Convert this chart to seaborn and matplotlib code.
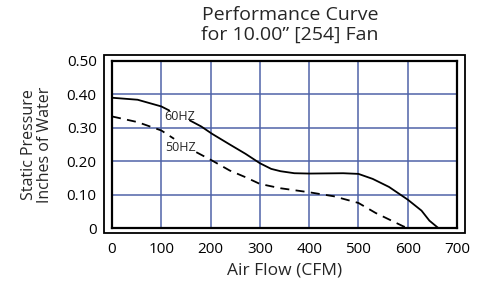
import numpy as np
import pandas as pd
import matplotlib
matplotlib.use("Agg")
import matplotlib.pyplot as plt
from matplotlib.patches import Rectangle
import seaborn as sns

# curve data (CFM, inches of water); seg = piece of the curve
# (the curves are broken where the 60HZ / 50HZ labels sit)
flow_60 = [0, 52, 100, 116, 158, 181, 203, 239, 271, 300, 323, 342, 370, 400, 469, 500,
           529, 562, 600, 628, 644, 662]
pres_60 = [0.390, 0.384, 0.364, 0.352, 0.322, 0.304, 0.282, 0.250, 0.222, 0.194, 0.177, 0.170,
           0.164, 0.163, 0.164, 0.162, 0.147, 0.123, 0.085, 0.052, 0.022, 0.0]
seg_60 = [0, 0, 0, 0, 1, 1, 1, 1, 1, 1, 1, 1, 1, 1, 1, 1, 1, 1, 1, 1, 1, 1]
flow_50 = [0, 52, 100, 126, 171, 203, 239, 271, 300, 342, 400, 450, 500, 535, 591, 600]
pres_50 = [0.334, 0.317, 0.292, 0.267, 0.227, 0.202, 0.172, 0.152, 0.132, 0.119, 0.107, 0.095,
           0.075, 0.045, 0.005, 0.0]
seg_50 = [0, 0, 0, 0, 1, 1, 1, 1, 1, 1, 1, 1, 1, 1, 1, 1]

x_ticks = [0, 100, 200, 300, 400, 500, 600, 700]
y_ticks = [0, 0.10, 0.20, 0.30, 0.40, 0.50]
y_tick_labels = ['0', '0.10', '0.20', '0.30', '0.40', '0.50']

sns.set_theme(style='white')
plt.rcParams['font.family'] = ['Open Sans', 'DejaVu Sans']

df60 = pd.DataFrame({'flow': flow_60, 'pres': pres_60, 'seg': seg_60})
df50 = pd.DataFrame({'flow': flow_50, 'pres': pres_50, 'seg': seg_50})

fig = plt.figure(figsize=(4.85, 2.85), dpi=100)
ax = fig.add_axes([112 / 485, 57 / 285, 345 / 485, 167 / 285])

grid_c = '#4F63A8'
for xv in x_ticks[1:-1]:
    ax.axvline(xv, color=grid_c, lw=1.1, zorder=1)
for yv in y_ticks[1:-1]:
    ax.axhline(yv, color=grid_c, lw=1.1, zorder=1)

sns.lineplot(data=df60, x='flow', y='pres', units='seg', estimator=None, color='black', lw=1.3,
             sort=False, ax=ax, zorder=3)
sns.lineplot(data=df50, x='flow', y='pres', units='seg', estimator=None, color='black', lw=1.3,
             sort=False, ax=ax, zorder=3, linestyle=(0, (5, 3.5)))

ax.text(137, 0.334, '60HZ', fontsize=9, ha='center', va='center', zorder=4)
ax.text(138, 0.240, '50HZ', fontsize=9, ha='center', va='center', zorder=4)

ax.set_xlim(0, 700)
ax.set_ylim(0, 0.5)
ax.set_xticks(x_ticks)
ax.set_yticks(y_ticks)
ax.set_yticklabels(y_tick_labels)
ax.tick_params(axis='both', length=0, labelsize=11, colors='black')
ax.tick_params(axis='x', pad=10)
ax.tick_params(axis='y', pad=11)
ax.grid(False)
for s in ax.spines.values():
    s.set_color('black')
    s.set_linewidth(1.6)

# outer frame around the plot area
ax.add_patch(Rectangle((-8 / 345, -5 / 167), 1 + 16 / 345, 1 + 11 / 167, transform=ax.transAxes,
                       fill=False, edgecolor='black', lw=1.3, clip_on=False, zorder=5))

ax.set_xlabel('Air Flow (CFM)', fontsize=12.5, labelpad=4)
ax.set_ylabel('Static Pressure\nInches of Water', fontsize=11.5, labelpad=10, linespacing=1.0)

fig.text(290 / 485, 1 - 25 / 285, 'Performance Curve\nfor 10.00\u201d [254] Fan', ha='center', va='center',
         fontsize=14, linespacing=1.12)

fig.savefig('out.png', dpi=100, facecolor='white')
